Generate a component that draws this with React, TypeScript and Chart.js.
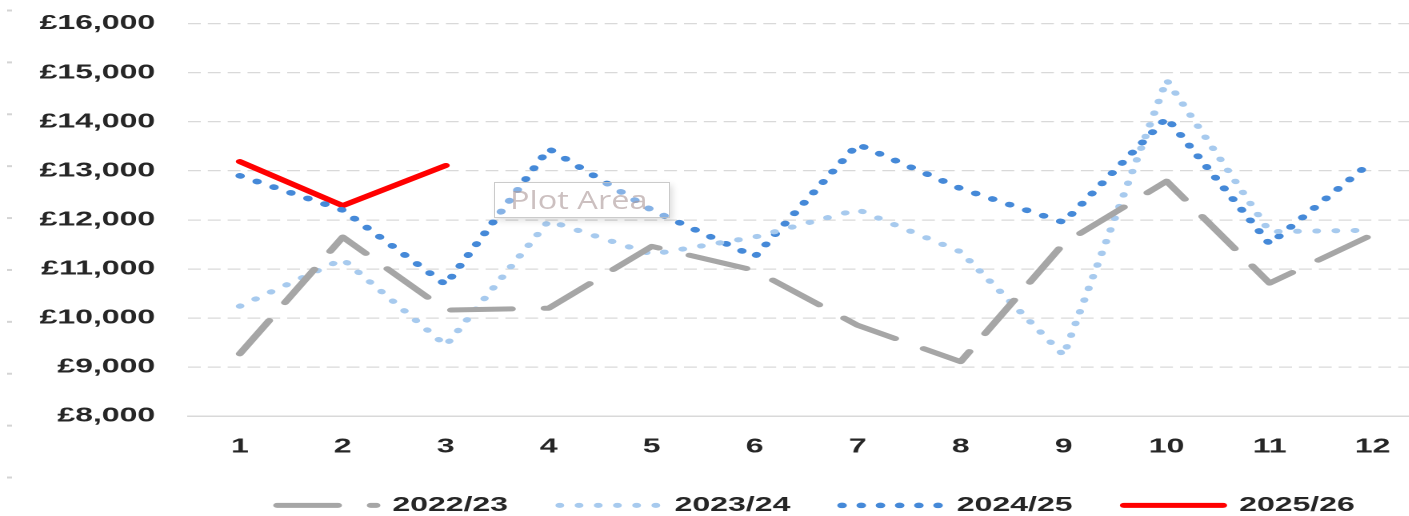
import React, { useEffect, useRef } from "react";
import { Chart, registerables } from "chart.js";

Chart.register(...registerables);

// ---- data ----
const months = [1, 2, 3, 4, 5, 6, 7, 8, 9, 10, 11, 12];
const seriesNames = ["2022/23", "2023/24", "2024/25", "2025/26"];
const values2223 = [9270, 11650, 10160, 10200, 11460, 10970, 9850, 9110, 11520, 12790, 10710, 11700];
const values2324 = [10240, 11200, 9440, 11980, 11300, 11650, 12210, 11350, 9240, 14850, 11760, 11790];
const values2425 = [12900, 12200, 10680, 13450, 12200, 11250, 13540, 12640, 11950, 14080, 11510, 13200];
const values2526 = [13190, 12290, 13110];
const yMin = 8000;
const yMax = 16000;
const yStep = 1000;

// ---- layout (not data) ----
const STRETCH = 1.6;
const CANVAS_W = 1020;
const CANVAS_TOP = -9.4;
const CANVAS_H = 534.4;
const PLOT_LEFT = 117.7;
const PLOT_BOTTOM = 415.7 - CANVAS_TOP;
const CAT_STEP = 64.56;
const LEGEND_PAD = 32.1;
const LEGEND_H = 20 + LEGEND_PAD + 10;
const X_MAX = 0.5 + (CANVAS_W - PLOT_LEFT) / CAT_STEP;

const FONT = { family: "'Liberation Sans', Arial, sans-serif", size: 20, weight: "bold" as const };
const TEXT_COLOR = "#262626";

function toPoints(vals: number[]) {
  return vals.map((v, i) => ({ x: months[i], y: v }));
}

export default function App() {
  const ref = useRef<HTMLCanvasElement | null>(null);

  useEffect(() => {
    if (!ref.current) return;
    const chart = new Chart(ref.current, {
      type: "line",
      data: {
        datasets: [
          {
            label: seriesNames[0],
            data: toPoints(values2223),
            borderColor: "#a6a6a6",
            backgroundColor: "#a6a6a6",
            borderWidth: 5,
            borderDash: [38, 20.5],
            borderCapStyle: "round",
            borderJoinStyle: "round",
            pointRadius: 0,
            tension: 0,
          },
          {
            label: seriesNames[1],
            data: toPoints(values2324),
            borderColor: "#a7caee",
            backgroundColor: "#a7caee",
            borderWidth: 5,
            borderDash: [0.5, 11.5],
            borderCapStyle: "round",
            borderJoinStyle: "round",
            pointRadius: 0,
            tension: 0,
          },
          {
            label: seriesNames[2],
            data: toPoints(values2425),
            borderColor: "#4589d8",
            backgroundColor: "#4589d8",
            borderWidth: 5.5,
            borderDash: [0.5, 11.5],
            borderCapStyle: "round",
            borderJoinStyle: "round",
            pointRadius: 0,
            tension: 0,
          },
          {
            label: seriesNames[3],
            data: toPoints(values2526),
            borderColor: "#ff0000",
            backgroundColor: "#ff0000",
            borderWidth: 5,
            borderCapStyle: "round",
            borderJoinStyle: "round",
            pointRadius: 0,
            tension: 0,
          },
        ],
      },
      options: {
        animation: false,
        responsive: true,
        maintainAspectRatio: false,
        devicePixelRatio: 2,
        layout: { padding: { top: 0, left: 0, right: 0, bottom: 0 } },
        plugins: {
          legend: {
            position: "bottom",
            labels: {
              usePointStyle: true,
              pointStyleWidth: 62,
              padding: LEGEND_PAD,
              font: FONT,
              color: TEXT_COLOR,
              generateLabels: (c: any) =>
                c.data.datasets.map((ds: any, i: number) => ({
                  text: ds.label,
                  datasetIndex: i,
                  hidden: false,
                  fillStyle: ds.borderColor,
                  strokeStyle: ds.borderColor,
                  fontColor: TEXT_COLOR,
                  lineWidth: ds.borderWidth,
                  lineDash: ds.borderDash || [],
                  lineDashOffset: 0,
                  lineCap: ds.borderCapStyle,
                  lineJoin: "round",
                  pointStyle: "line",
                  rotation: 0,
                })),
            },
          },
          tooltip: { enabled: false },
        },
        scales: {
          x: {
            type: "linear",
            min: 0.5,
            max: X_MAX,
            afterBuildTicks: (scale: any) => {
              scale.ticks = months.map((m) => ({ value: m }));
            },
            afterFit: (scale: any) => {
              scale.height = CANVAS_H - LEGEND_H - PLOT_BOTTOM;
            },
            grid: { display: false, drawTicks: false },
            border: { display: true, color: "#d9d9d9", width: 1.5 },
            ticks: {
              autoSkip: false,
              maxRotation: 0,
              padding: 19,
              font: FONT,
              color: TEXT_COLOR,
              callback: (v: any) => String(v),
            },
          },
          y: {
            min: yMin,
            max: yMax,
            afterFit: (scale: any) => {
              scale.width = PLOT_LEFT;
            },
            grid: { color: "#d9d9d9", lineWidth: 1.2, drawTicks: false },
            border: { display: false, dash: [8, 4.4] },
            ticks: {
              stepSize: yStep,
              padding: 20.7,
              font: FONT,
              color: TEXT_COLOR,
              callback: (v: any) => "£" + Number(v).toLocaleString("en-GB"),
            },
          },
        },
      },
    });
    return () => chart.destroy();
  }, []);

  return (
    <div
      style={{
        position: "fixed",
        left: 0,
        top: 0,
        width: 1409,
        height: 516,
        overflow: "hidden",
        background: "#ffffff",
      }}
    >
      <div
        style={{
          position: "absolute",
          left: 7,
          top: 0,
          width: 5,
          height: 516,
          backgroundImage: "linear-gradient(to bottom, #d4d4d4 0px, #d4d4d4 1.5px, transparent 1.5px)",
          backgroundSize: "5px 51.9px",
          backgroundRepeat: "repeat-y",
          backgroundPosition: "0 9.5px",
        }}
      />
      <div
        style={{
          position: "absolute",
          left: 0,
          top: CANVAS_TOP,
          width: CANVAS_W,
          height: CANVAS_H,
          transform: `scaleX(${STRETCH})`,
          transformOrigin: "0 0",
        }}
      >
        <canvas ref={ref} />
      </div>
      <div
        style={{
          position: "absolute",
          left: 494,
          top: 182,
          width: 176,
          height: 36,
          boxSizing: "border-box",
          border: "1.5px solid rgba(190,190,190,0.8)",
          background: "rgba(255,255,255,0.35)",
          boxShadow: "3px 3px 6px rgba(0,0,0,0.12)",
          overflow: "hidden",
          whiteSpace: "nowrap",
        }}
      >
        <span
          style={{
            display: "inline-block",
            marginLeft: 15,
            color: "rgba(170,150,150,0.6)",
            fontFamily: "'Open Sans', sans-serif",
            fontSize: 25,
            lineHeight: "32px",
            transform: "scaleX(1.3)",
            transformOrigin: "0 50%",
          }}
        >
          Plot Area
        </span>
      </div>
    </div>
  );
}
